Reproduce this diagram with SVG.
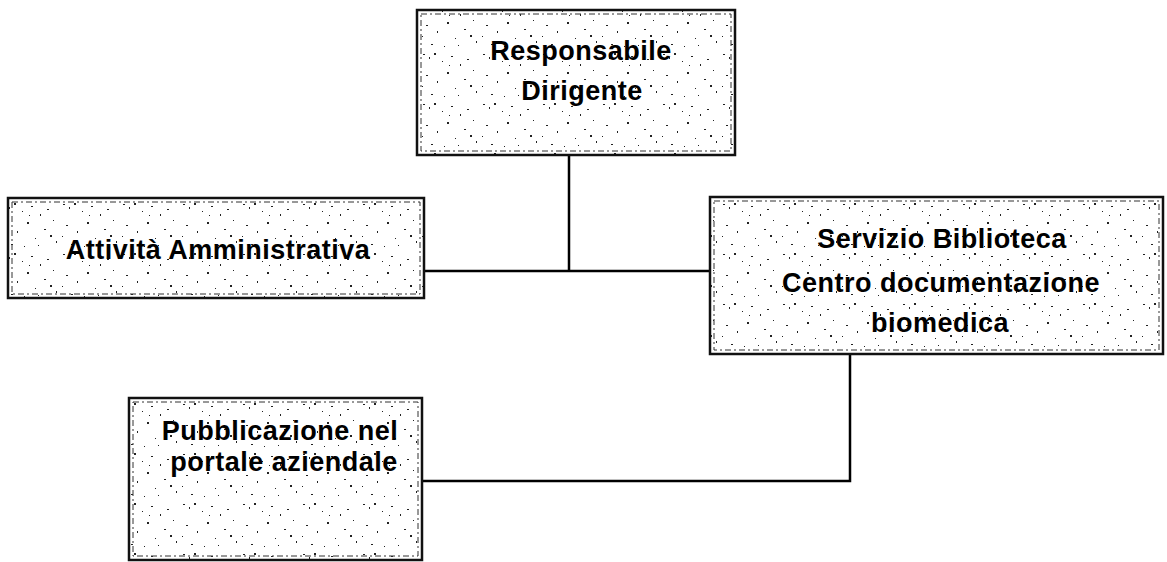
<svg xmlns="http://www.w3.org/2000/svg" width="1167" height="562" viewBox="0 0 1167 562">
<style>
.box{fill:url(#speck);stroke:#111;stroke-width:2.5}
.inner{fill:none;stroke:#333;stroke-width:1;stroke-dasharray:6 3 2 3}
.lbl{font-family:"Liberation Sans",Arial,sans-serif;font-weight:bold;font-size:27px;letter-spacing:0.5px;fill:#000;text-anchor:middle}
.con{fill:none;stroke:#000;stroke-width:2.5}
</style>
<defs>
<pattern id="speck" width="60" height="50" patternUnits="userSpaceOnUse">
<rect width="60" height="50" fill="#fff"/>
<g fill="#222">
<rect x="3" y="4" width="2" height="1"/><rect x="9" y="7" width="1" height="2"/><rect x="14" y="3" width="2" height="2"/>
<rect x="22" y="11" width="1" height="1"/><rect x="31" y="6" width="2" height="1"/><rect x="40" y="14" width="1" height="2"/>
<rect x="47" y="9" width="2" height="1"/><rect x="53" y="20" width="1" height="1"/><rect x="6" y="25" width="2" height="1"/>
<rect x="17" y="31" width="1" height="2"/><rect x="27" y="22" width="2" height="2"/><rect x="35" y="38" width="1" height="1"/>
<rect x="44" y="29" width="2" height="1"/><rect x="56" y="41" width="1" height="2"/><rect x="11" y="44" width="2" height="1"/>
<rect x="24" y="46" width="1" height="1"/><rect x="50" y="35" width="2" height="2"/><rect x="38" y="45" width="1" height="1"/>
<rect x="2" y="36" width="1" height="1"/><rect x="29" y="15" width="1" height="1"/>
</g>
</pattern>
</defs>
<g id="connectors">
<path class="con" d="M569 155 V271 M425 271 H710"/>
<path class="con" d="M850 354 V481 H422"/>
</g>
<g id="node-responsabile">
<rect class="box" x="417" y="10" width="318" height="145"/>
<rect class="inner" x="421" y="14" width="310" height="137"/>
<text class="lbl" x="581" y="60">Responsabile</text>
<text class="lbl" x="582" y="100">Dirigente</text>
</g>
<g id="node-attivita">
<rect class="box" x="8" y="198" width="416" height="100"/>
<rect class="inner" x="12" y="202" width="408" height="92"/>
<text class="lbl" x="218" y="259">Attività Amministrativa</text>
</g>
<g id="node-servizio">
<rect class="box" x="710" y="197" width="453" height="157"/>
<rect class="inner" x="714" y="201" width="445" height="149"/>
<text class="lbl" x="942" y="248">Servizio Biblioteca</text>
<text class="lbl" x="941" y="292">Centro documentazione</text>
<text class="lbl" x="940" y="332">biomedica</text>
</g>
<g id="node-pubblicazione">
<rect class="box" x="129" y="398" width="293" height="162"/>
<rect class="inner" x="133" y="402" width="285" height="154"/>
<text class="lbl" x="280" y="440">Pubblicazione nel</text>
<text class="lbl" x="284" y="471">portale aziendale</text>
</g>
</svg>
